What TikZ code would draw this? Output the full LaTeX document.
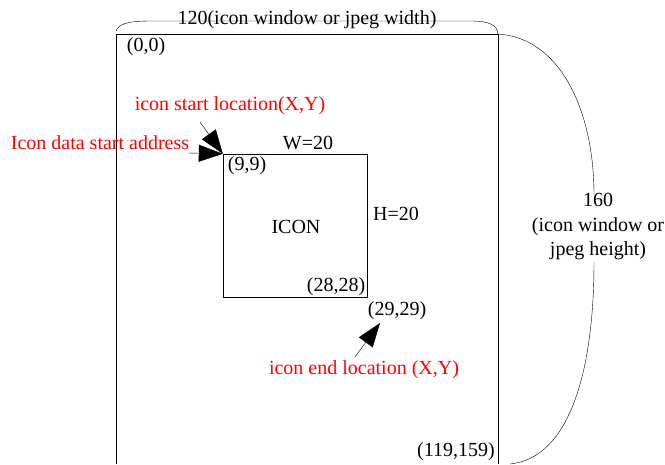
\documentclass[tikz,border=0pt]{standalone}
\usepackage{fontspec}
\setmainfont{Liberation Serif}
\usetikzlibrary{arrows.meta}
\begin{document}
\begin{tikzpicture}[x=1pt,y=1pt]
    \tikzstyle{every node}+=[inner sep=0pt,font=\fontsize{20}{24.5}\selectfont]
    \tikzstyle{note}=[text=red]
    \tikzstyle{bigarrow}=[-{Triangle[length=24pt,width=17pt]},shorten >=0pt]
    \useasboundingbox (0,0) rectangle (665,-464);
    % outer window
    \draw [black] (116,-464) -- (116,-34) -- (498,-34) -- (498,-464);
    % icon box
    \node [draw=black,minimum width=144,minimum height=143] (icon) at (295,-225.5) {};
    \node (iconname) at (296,-227) {ICON};
    % width brace
    \draw [black] (116,-31) .. controls (119,-23) and (130,-21) .. (152,-21)
        -- (470,-21) .. controls (490,-21) and (497,-25) .. (498,-34);
    \node (wlbl) at (307,-20) {120(icon window or jpeg width)};
    % height brace
    \node [align=center] (hlbl) at (598,-227) {160\\(icon window or\\jpeg height)};
    \draw [black] (498,-34) .. controls (560,-38) and (594,-110) .. (594,-195);
    \draw [black] (594,-262) .. controls (594,-370) and (570,-458) .. (510,-464);
    % coordinates
    \node (origin) at (146,-47) {(0,0)};
    \node (startpt) at (247,-166) {(9,9)};
    \node (lastpt) at (336,-287) {(28,28)};
    \node (endpt) at (397,-311) {(29,29)};
    \node (corner) at (456,-452) {(119,159)};
    \node (wsize) at (308,-143) {W=20};
    \node (hsize) at (396,-214) {H=20};
    % notes
    \node [note] (startlbl) at (230,-106) {icon start location(X,Y)};
    \node [note] (addrlbl) at (100,-143) {Icon data start address};
    \node [note] (endlbl) at (364,-370) {icon end location (X,Y)};
    \coordinate (starttail) at (200,-122);
    \coordinate (addrtail) at (188,-153);
    \coordinate (endtail) at (355,-357);
    \coordinate (endhead) at (380,-323);
    \draw [bigarrow] (starttail) -- (icon.north west);
    \draw [bigarrow] (addrtail) -- (icon.north west);
    \draw [bigarrow] (endtail) -- (endhead);
\end{tikzpicture}
\end{document}
